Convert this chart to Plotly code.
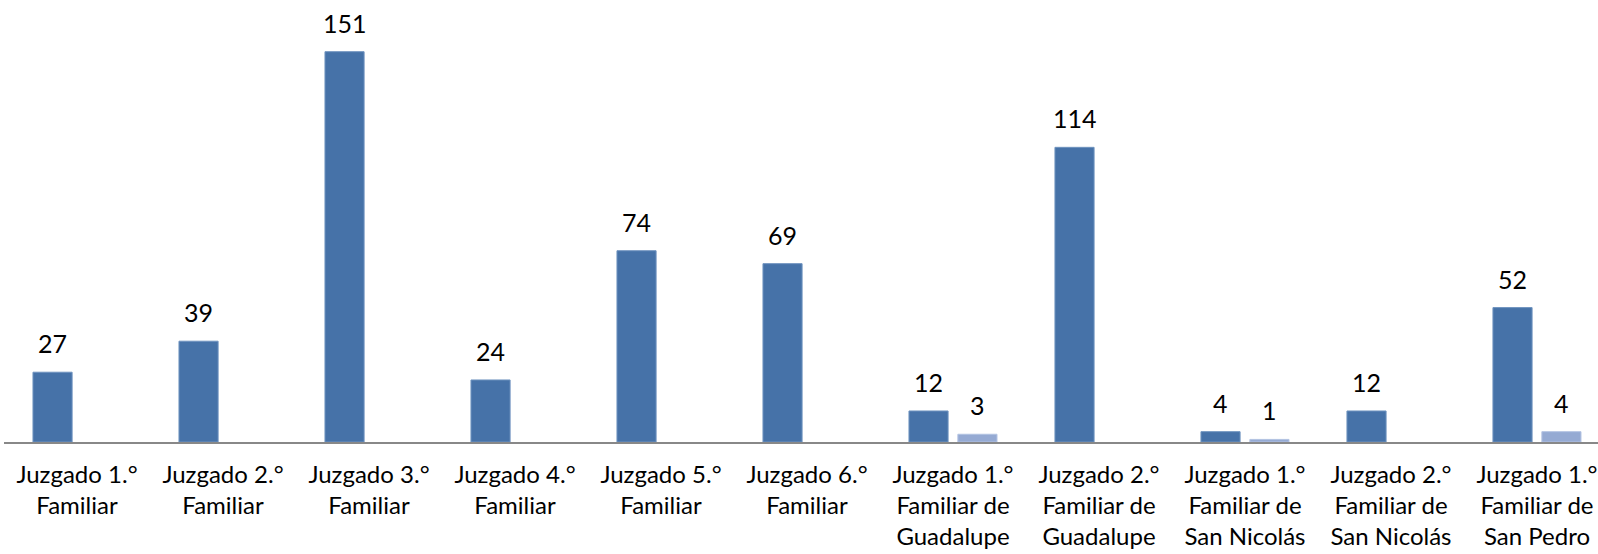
import plotly.graph_objects as go

categories = [
    "Juzgado 1.°<br>Familiar",
    "Juzgado 2.°<br>Familiar",
    "Juzgado 3.°<br>Familiar",
    "Juzgado 4.°<br>Familiar",
    "Juzgado 5.°<br>Familiar",
    "Juzgado 6.°<br>Familiar",
    "Juzgado 1.°<br>Familiar de<br>Guadalupe",
    "Juzgado 2.°<br>Familiar de<br>Guadalupe",
    "Juzgado 1.°<br>Familiar de<br>San Nicolás",
    "Juzgado 2.°<br>Familiar de<br>San Nicolás",
    "Juzgado 1.°<br>Familiar de<br>San Pedro",
]
serie_a = [27, 39, 151, 24, 74, 69, 12, 114, 4, 12, 52]
serie_b = [None, None, None, None, None, None, 3, None, 1, None, 4]

color_a = "#4672A8"
color_b = "#95AAD3"

W, H = 1598, 554
ml, mr, mt, mb = 4, 0, 0, 112
bargap = 0.33
bargroupgap = 0.2
n_visible = 10.918
cat_px = (W - ml - mr) / n_visible
slot_px = cat_px * (1 - bargap) / 2
FONT = "Lato"

fig = go.Figure()
fig.add_trace(go.Bar(x=categories, y=serie_a, marker=dict(color=color_a, line=dict(color="#6f93bf", width=1)), name="A"))
fig.add_trace(go.Bar(x=categories, y=serie_b, marker=dict(color=color_b, line=dict(color="#b3c3e2", width=1)), name="B"))

annotations = []
for series, shift in ((serie_a, -slot_px / 2), (serie_b, slot_px / 2)):
    for c, v in zip(categories, series):
        if v is None:
            continue
        annotations.append(dict(x=c, y=v, xref="x", yref="y", text=str(v), showarrow=False,
                                xshift=shift, yshift=12, yanchor="bottom",
                                font=dict(family=FONT, size=25, color="#000000")))

fig.update_layout(
    width=W, height=H,
    margin=dict(l=ml, r=mr, t=mt, b=mb),
    barmode="group", bargap=bargap, bargroupgap=bargroupgap,
    showlegend=False,
    plot_bgcolor="white", paper_bgcolor="white",
    annotations=annotations,
    font=dict(family=FONT, size=24, color="#000000"),
)
fig.update_xaxes(range=[-0.5, -0.5 + n_visible], showline=True, linecolor="#888888", linewidth=2,
                 ticks="", showgrid=False, tickfont=dict(family=FONT, size=24, color="#000000"),
                 tickangle=0, automargin=False, ticklabelstandoff=10)
fig.update_yaxes(range=[0, 171], visible=False, showgrid=False, zeroline=False)

fig.write_html("out.html", config={"displayModeBar": False},
               post_script="document.body.style.margin='0';document.body.style.overflow='hidden';")
